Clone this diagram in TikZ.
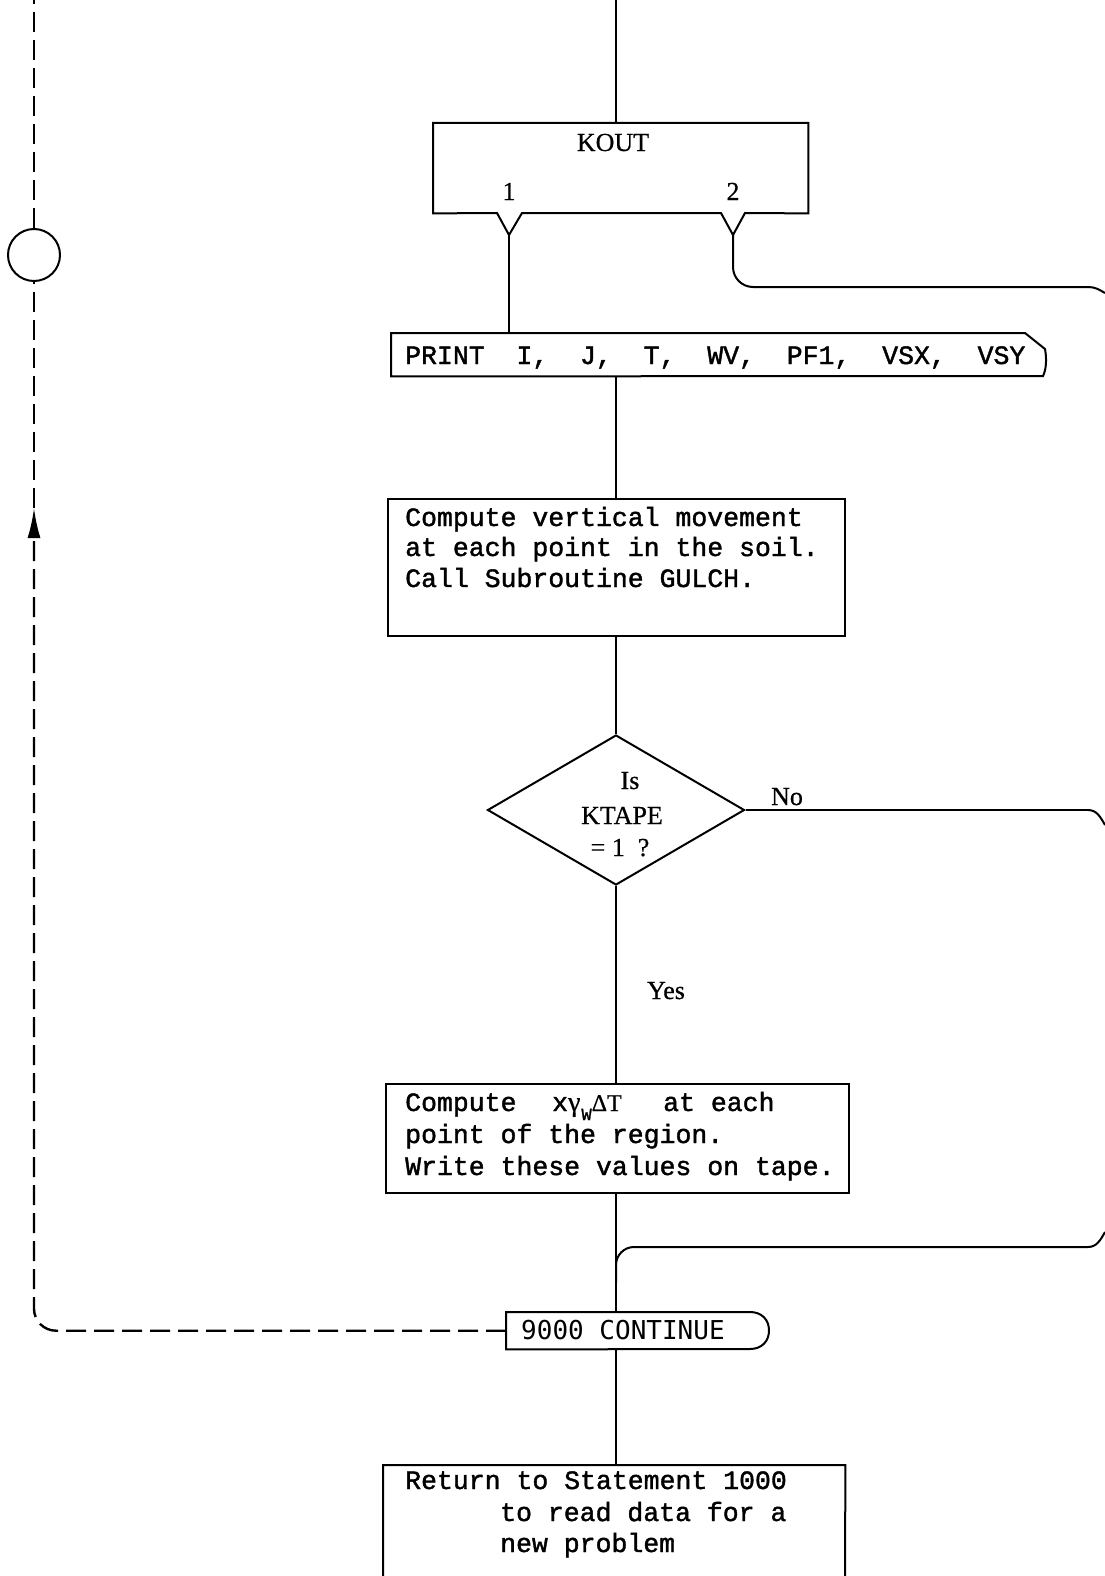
\documentclass[tikz,border=0pt]{standalone}
\usepackage{fontspec}
\usetikzlibrary{shapes.geometric,arrows.meta}
\newfontfamily\tw[FakeBold=1.5]{Liberation Mono}
\newfontfamily\sr[FakeBold=0.6]{Liberation Serif}
\newfontfamily\cn{DejaVu Sans Mono}
\newcommand\twf{\tw\fontsize{26.5}{31.5}\selectfont}
\newcommand\srf{\sr\fontsize{26}{30}\selectfont}
\frenchspacing
\begin{document}
\begin{tikzpicture}[x=1pt,y=-1pt,
  ln/.style={line width=2pt},
  box/.style={draw=none, inner sep=0pt, anchor=north west},
  rbox/.style={draw, line width=2pt, inner sep=0pt, anchor=north west},
  tt/.style={anchor=base west, inner sep=0pt, font=\twf},
  lbl/.style={anchor=base, inner sep=0pt, font=\srf},
  dsh/.style={line width=2.4pt, dash pattern=on 20pt off 8pt},
]
\fill[white] (0,0) rectangle (1105,1576);
\useasboundingbox (0,0) rectangle (1105,1576);
\coordinate (ax) at (616,0);

% KOUT
\node[box, minimum width=375pt, minimum height=90pt] (kout) at (433,123) {};
\coordinate (n1) at (509,235);
\coordinate (n2) at (733,235);
\draw[ln] (kout.north west) -- (kout.north east) -- (kout.south east) -- (745,213) -- (n2) -- (721,213) -- (522,213) -- (n1) -- (497,213) -- (kout.south west) -- cycle;
\node[lbl] (koutt) at (613,151) {KOUT};
\node[lbl] (k1) at (509,200) {1};
\node[lbl] (k2) at (733,200) {2};
\draw[ln] (ax) -- (ax |- kout.north);

% PRINT
\node[box, minimum width=654pt, minimum height=43pt] (print) at (391,333) {};
\draw[ln] (print.north west) -- (1025,333) -- (1045,349) .. controls (1047,360) and (1046,370) .. (1043,376) -- (print.south west) -- cycle;
\node[tt] (printt) at (405,364) {PRINT\ \ I,\ \ J,\ \ T,\ \ WV,\ \ PF1,\ \ VSX,\ \ VSY};
\draw[ln] (n1) -- (n1 |- print.north);
\draw[ln, rounded corners=20pt] (n2) |- (1088,287);
\draw[ln] (1088,287) to[out=0,in=150] (1105,293);

% compute 1
\node[rbox, minimum width=457pt, minimum height=137pt] (comp1) at (387,498) {};
\node[tt] (c1a) at (405,526) {Compute vertical movement};
\node[tt] (c1b) at (405,556) {at each point in the soil.};
\node[tt] (c1c) at (405,587) {Call Subroutine GULCH.};
\draw[ln] (ax |- print.south) -- (ax |- comp1.north);

% decision
\node[diamond, draw, ln, minimum width=257pt, minimum height=150pt, inner sep=0pt] (kt) at (616,810) {};
\draw[ln] (ax |- comp1.south) -- (kt.north);
\node[lbl] (is) at (630,789) {Is};
\node[lbl] (ktape) at (622,824) {KTAPE};
\node[lbl] (eq) at (620,856) {= 1\ \ ?};
\node[lbl] (no) at (787,805) {No};
\draw[ln] (kt.east) -- (1088,810);
\draw[ln] (1088,810) to[out=0,in=120] (1105,825);
\node[lbl] (yes) at (666,999) {Yes};

% compute 2
\node[rbox, minimum width=463pt, minimum height=109pt] (comp2) at (385,1083) {};
\draw[ln] (kt.south) -- (ax |- comp2.north);
\node[tt] (c2a) at (405,1111) {\makebox[147pt][l]{Compute}\makebox[111pt][l]{x{\sr\fontsize{28}{28}\selectfont γ}\hspace{1pt}\raisebox{-9pt}{\tw\fontsize{17}{17}\selectfont W}{\sr\fontsize{24}{24}\selectfont ΔT}}at each};
\node[tt] (c2b) at (405,1143) {point of the region.};
\node[tt] (c2c) at (405,1175) {Write these values on tape.};

% merge from right
\coordinate (rin) at (1105,1232);
\draw[ln] (rin) to[out=-120,in=0] (1088,1247);
\draw[ln, rounded corners=18pt] (1088,1247) -- (616,1247) -- (616,1282);

% 9000 continue
\node[box, minimum width=263pt, minimum height=37pt] (cont) at (506,1312) {};
\draw[ln] (cont.north west) -- (750,1312) .. controls (762,1312) and (769,1320) .. (769,1330.5) .. controls (769,1341) and (762,1349) .. (750,1349) -- (cont.south west) -- cycle;
\node[anchor=base west, inner sep=0pt, font=\cn\fontsize{26}{30}\selectfont] (contt) at (521,1339) {9000 CONTINUE};
\draw[ln] (ax |- comp2.south) -- (ax |- cont.north);

% return
\node[box, minimum width=462pt, minimum height=115pt] (ret) at (383,1465) {};
\draw[ln] (383,1580) -- (ret.north west) -- (ret.north east) -- (845,1580);
\draw[ln] (ax |- cont.south) -- (ax |- ret.north);
\node[tt] (r1) at (405,1489) {Return to Statement 1000};
\node[tt] (r2) at (500,1521) {to read data for a};
\node[tt] (r3) at (500,1552) {new problem};

% left dashed loop
\node[circle, draw, ln, minimum size=52pt, inner sep=0pt] (circ) at (34,255) {};
\coordinate (ltop) at (34,0);
\coordinate (arr) at (34,508);
\draw[dsh] (circ.north) -- (ltop);
\draw[dsh] (arr) -- (circ.south);
\draw[dsh, rounded corners=22pt, -{Latex[length=30pt,width=13pt]}] (cont.west) -| (arr);
\end{tikzpicture}
\end{document}
